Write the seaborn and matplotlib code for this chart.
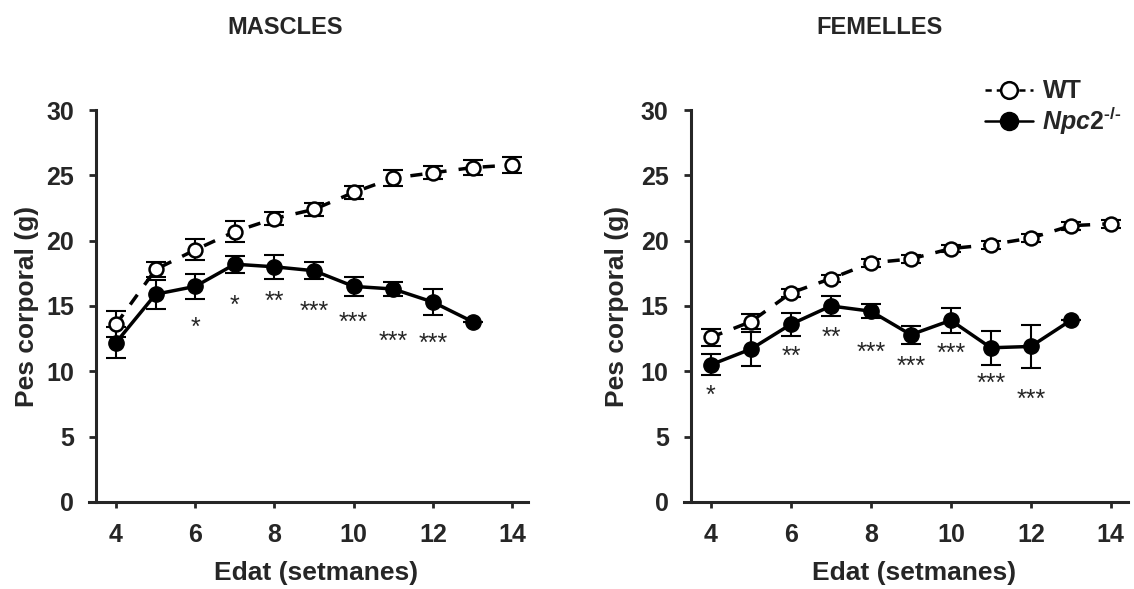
import numpy as np
import pandas as pd
import matplotlib.pyplot as plt
import seaborn as sns
from matplotlib.lines import Line2D
from matplotlib.transforms import ScaledTranslation

# dades (mitjana i error estandard), llegides del grafic
weeks_wt = [4, 5, 6, 7, 8, 9, 10, 11, 12, 13, 14]
weeks_ko = [4, 5, 6, 7, 8, 9, 10, 11, 12, 13]

male_wt = [13.6, 17.8, 19.3, 20.7, 21.7, 22.4, 23.7, 24.8, 25.2, 25.6, 25.8]
male_wt_sem = [1.0, 0.6, 0.8, 0.8, 0.5, 0.5, 0.5, 0.6, 0.5, 0.6, 0.6]
male_ko = [12.2, 15.9, 16.5, 18.2, 18.0, 17.7, 16.5, 16.3, 15.3, 13.8]
male_ko_sem = [1.2, 1.1, 0.95, 0.65, 0.9, 0.65, 0.75, 0.5, 1.0, 0.0]

female_wt = [12.6, 13.8, 16.0, 17.1, 18.3, 18.6, 19.4, 19.7, 20.2, 21.15, 21.3]
female_wt_sem = [0.65, 0.6, 0.3, 0.3, 0.3, 0.3, 0.3, 0.3, 0.3, 0.3, 0.3]
female_ko = [10.5, 11.7, 13.6, 15.0, 14.6, 12.8, 13.9, 11.8, 11.9, 13.9]
female_ko_sem = [0.8, 1.3, 0.9, 0.8, 0.55, 0.7, 0.95, 1.3, 1.65, 0.0]

# significacio
male_star_x = [6, 7, 8, 9, 10, 11, 12]
male_star_lab = ['*', '*', '**', '***', '***', '***', '***']
male_star_y = [13.8, 15.5, 15.8, 15.0, 14.2, 12.7, 12.6]

female_star_x = [4, 6, 7, 8, 9, 10, 11, 12]
female_star_lab = ['*', '**', '**', '***', '***', '***', '***', '***']
female_star_y = [8.6, 11.6, 13.0, 11.9, 10.8, 11.8, 9.5, 8.3]

sns.set_style('ticks')
plt.rcParams['font.family'] = ['Liberation Sans', 'DejaVu Sans']
plt.rcParams['font.weight'] = 'bold'
plt.rcParams['mathtext.fontset'] = 'custom'
plt.rcParams['mathtext.it'] = 'Liberation Sans:italic:bold'
plt.rcParams['mathtext.rm'] = 'Liberation Sans:bold'
plt.rcParams['mathtext.bf'] = 'Liberation Sans:bold'

fig = plt.figure(figsize=(11.34, 5.89), dpi=100)
ax1 = fig.add_axes([0.0789, 0.148, 0.3867, 0.665])
ax2 = fig.add_axes([0.6033, 0.148, 0.3914, 0.665])

WT_STYLE = dict(color='black', lw=2.5, linestyle=(0, (3.5, 3.5)), marker='o',
                markersize=10, markerfacecolor='white', markeredgecolor='black',
                markeredgewidth=1.8)
KO_STYLE = dict(color='black', lw=2.5, linestyle='-', marker='o',
                markersize=11, markerfacecolor='black', markeredgecolor='black',
                markeredgewidth=1.0)


def panel(ax, wt, wt_sem, ko, ko_sem, star_x, star_lab, star_y, xmax, ylab_x):
    df_wt = pd.DataFrame({'Edat': weeks_wt, 'Pes': wt})
    df_ko = pd.DataFrame({'Edat': weeks_ko, 'Pes': ko})

    ax.errorbar(weeks_wt, wt, yerr=wt_sem, fmt='none', ecolor='black',
                elinewidth=1.5, capsize=7, capthick=1.5, zorder=2)
    ax.errorbar(weeks_ko, ko, yerr=ko_sem, fmt='none', ecolor='black',
                elinewidth=1.5, capsize=7, capthick=1.5, zorder=2)
    sns.lineplot(data=df_ko, x='Edat', y='Pes', ax=ax, errorbar=None,
                 zorder=3, **KO_STYLE)
    sns.lineplot(data=df_wt, x='Edat', y='Pes', ax=ax, errorbar=None,
                 zorder=4, **WT_STYLE)

    # asteriscs
    off = ScaledTranslation(0, -4.5 / 72, fig.dpi_scale_trans)
    for x, lab, y in zip(star_x, star_lab, star_y):
        ax.text(x, y, lab, ha='center', va='center', fontsize=18,
                fontweight='normal', transform=ax.transData + off)

    ax.set_xlim(3.33, xmax)
    ax.set_ylim(0, 30)
    ax.set_xticks([4, 6, 8, 10, 12, 14])
    ax.set_yticks([0, 5, 10, 15, 20, 25, 30])
    sns.despine(ax=ax)
    ax.spines['left'].set_position(('data', 3.5))
    ax.spines['left'].set_linewidth(2.2)
    ax.spines['bottom'].set_linewidth(2.2)
    ax.tick_params(axis='x', length=4, width=2, pad=11, labelsize=18)
    ax.tick_params(axis='y', length=5, width=2, pad=11, labelsize=18)
    for lab in ax.get_xticklabels() + ax.get_yticklabels():
        lab.set_fontweight('bold')

    ax.set_xlabel('Edat (setmanes)', fontsize=19, fontweight='bold', va='baseline')
    ax.xaxis.set_label_coords(0.517, -0.20)
    ax.set_ylabel('Pes corporal (g)', fontsize=19, fontweight='bold', va='center')
    ax.yaxis.set_label_coords(ylab_x, 0.5)


panel(ax1, male_wt, male_wt_sem, male_ko, male_ko_sem,
      male_star_x, male_star_lab, male_star_y, 14.4, -0.1425)
panel(ax2, female_wt, female_wt_sem, female_ko, female_ko_sem,
      female_star_x, female_star_lab, female_star_y, 14.43, -0.1514)

fig.text(285 / 1134, 1 - 34 / 589, 'MASCLES', ha='center', va='baseline',
         fontsize=17, fontweight='bold')
fig.text(880 / 1134, 1 - 34 / 589, 'FEMELLES', ha='center', va='baseline',
         fontsize=17, fontweight='bold')

# llegenda
h_wt = Line2D([], [], color='black', lw=1.8, linestyle=(0, (2.5, 2)),
              marker='o', markersize=12, markerfacecolor='white',
              markeredgecolor='black', markeredgewidth=1.8)
h_ko = Line2D([], [], color='black', lw=1.8, linestyle='-',
              marker='o', markersize=13, markerfacecolor='black',
              markeredgecolor='black')
fig.legend([h_wt, h_ko], ['WT', '$\\mathit{Npc2}^{\u2010/\u2010}$'],
           loc='center left', bbox_to_anchor=(985 / 1134, 1 - 108 / 589),
           frameon=False, fontsize=18, handlelength=1.9, handletextpad=0.4,
           labelspacing=0.05, borderpad=0, borderaxespad=0)

fig.savefig('out.png', dpi=100)
